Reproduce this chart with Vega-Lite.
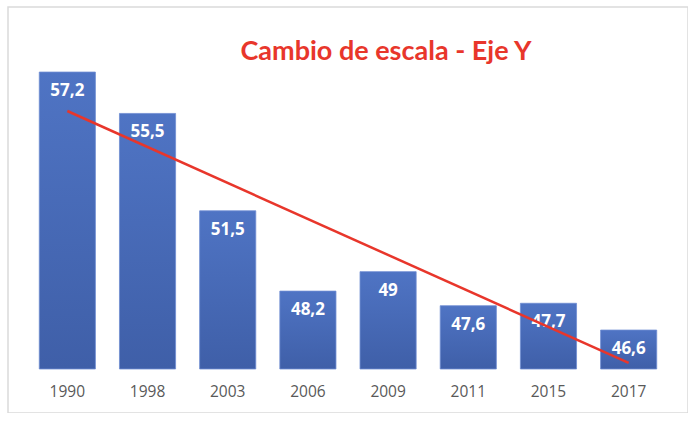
{
  "$schema": "https://vega.github.io/schema/vega-lite/v6.json",
  "autosize": {"type": "none"},
  "padding": {"left": 8, "top": 7, "right": 0, "bottom": 0},
  "width": 680,
  "height": 406,
  "background": "white",
  "config": {
    "locale": {"number": {"decimal": ",", "thousands": ".", "grouping": [3], "currency": ["", " €"]}},
    "view": {"stroke": "#DADADA", "strokeWidth": 1.5}
  },
  "title": {
    "text": "Cambio de escala - Eje Y",
    "font": "Lato",
    "fontSize": 27,
    "fontWeight": "bold",
    "color": "#E8362B",
    "anchor": "middle",
    "baseline": "alphabetic",
    "offset": 0,
    "dx": 38,
    "dy": 80
  },
  "datasets": {
    "bars": [
      {"year": "1990", "value": 57.2},
      {"year": "1998", "value": 55.5},
      {"year": "2003", "value": 51.5},
      {"year": "2006", "value": 48.2},
      {"year": "2009", "value": 49},
      {"year": "2011", "value": 47.6},
      {"year": "2015", "value": 47.7},
      {"year": "2017", "value": 46.6}
    ],
    "trend": [
      {"year": "1990", "trend": 55.6},
      {"year": "2017", "trend": 45.25}
    ]
  },
  "layer": [
    {
      "data": {"name": "bars"},
      "mark": {
        "type": "bar",
        "stroke": "#6E8DD2",
        "strokeWidth": 0.8,
        "color": {
          "gradient": "linear",
          "x1": 0, "y1": 0, "x2": 0, "y2": 1,
          "stops": [
            {"offset": 0, "color": "#4F74C4"},
            {"offset": 1, "color": "#3F5FA8"}
          ]
        }
      },
      "encoding": {
        "x": {
          "field": "year", "type": "ordinal", "sort": null,
          "scale": {"paddingInner": 0.3, "paddingOuter": 0.39, "align": 0.5},
          "axis": {
            "title": null, "domain": false, "ticks": false, "offset": -44,
            "labelFont": "Open Sans", "labelFontSize": 15.5, "labelColor": "#595959",
            "labelBaseline": "middle", "labelPadding": 22, "labelAngle": 0
          }
        },
        "y": {
          "field": "value", "type": "quantitative",
          "scale": {"domain": [43.192, 59.873], "nice": false, "zero": false},
          "axis": null
        },
        "y2": {"datum": 45}
      }
    },
    {
      "data": {"name": "bars"},
      "mark": {
        "type": "text", "color": "white", "font": "Open Sans", "fontWeight": "bold",
        "fontSize": 17, "baseline": "middle", "dy": 19
      },
      "encoding": {
        "x": {"field": "year", "type": "ordinal", "sort": null},
        "y": {"field": "value", "type": "quantitative"},
        "text": {"field": "value", "type": "quantitative", "format": ".3~r"}
      }
    },
    {
      "data": {"name": "trend"},
      "mark": {"type": "line", "color": "#E8362B", "strokeWidth": 2.5},
      "encoding": {
        "x": {"field": "year", "type": "ordinal", "sort": null},
        "y": {"field": "trend", "type": "quantitative"}
      }
    }
  ]
}
